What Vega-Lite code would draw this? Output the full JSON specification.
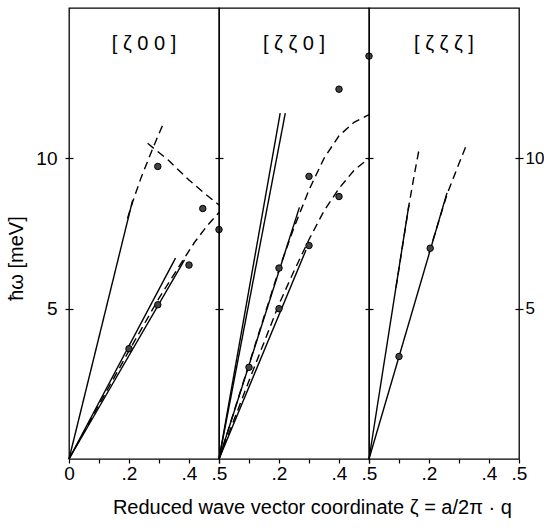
{
  "$schema": "https://vega.github.io/schema/vega-lite/v6.json",
  "padding": {"left": 6, "top": 7, "right": 0, "bottom": 4},
  "background": "white",
  "bounds": "flush",
  "spacing": 0,
  "config": {
    "view": {"stroke": "black", "strokeWidth": 1.3},
    "font": "Liberation Sans",
    "axis": {
      "grid": false, "domain": false, "tickColor": "black", "tickWidth": 1.2, "tickSize": 4,
      "labelColor": "black", "labelFont": "Liberation Sans", "labelFontSize": 19,
      "titleColor": "black", "titleFont": "Liberation Sans", "titleFontWeight": "normal"
    },
    "title": {"font": "Liberation Sans", "fontWeight": "normal", "color": "black"}
  },
  "datasets": {
    "curves": [
      {"panel": "A", "curve": "a1", "style": "solid", "zeta": 0, "E": 0},
      {"panel": "A", "curve": "a1", "style": "solid", "zeta": 0.212, "E": 8.6},
      {"panel": "A", "curve": "a2", "style": "dashed", "zeta": 0.195, "E": 8.0},
      {"panel": "A", "curve": "a2", "style": "dashed", "zeta": 0.212, "E": 8.55},
      {"panel": "A", "curve": "a2", "style": "dashed", "zeta": 0.24, "E": 9.35},
      {"panel": "A", "curve": "a2", "style": "dashed", "zeta": 0.28, "E": 10.35},
      {"panel": "A", "curve": "a2", "style": "dashed", "zeta": 0.312, "E": 11.1},
      {"panel": "A", "curve": "a3", "style": "dashed", "zeta": 0.262, "E": 10.5},
      {"panel": "A", "curve": "a3", "style": "dashed", "zeta": 0.33, "E": 9.95},
      {"panel": "A", "curve": "a3", "style": "dashed", "zeta": 0.4, "E": 9.28},
      {"panel": "A", "curve": "a3", "style": "dashed", "zeta": 0.45, "E": 8.85},
      {"panel": "A", "curve": "a3", "style": "dashed", "zeta": 0.5, "E": 8.45},
      {"panel": "A", "curve": "a4", "style": "solid", "zeta": 0, "E": 0},
      {"panel": "A", "curve": "a4", "style": "solid", "zeta": 0.355, "E": 6.68},
      {"panel": "A", "curve": "a5", "style": "solid", "zeta": 0, "E": 0},
      {"panel": "A", "curve": "a5", "style": "solid", "zeta": 0.385, "E": 6.62},
      {"panel": "A", "curve": "a6", "style": "dashed", "zeta": 0, "E": 0},
      {"panel": "A", "curve": "a6", "style": "dashed", "zeta": 0.1, "E": 1.8},
      {"panel": "A", "curve": "a6", "style": "dashed", "zeta": 0.2, "E": 3.6},
      {"panel": "A", "curve": "a6", "style": "dashed", "zeta": 0.3, "E": 5.35},
      {"panel": "A", "curve": "a6", "style": "dashed", "zeta": 0.357, "E": 6.25},
      {"panel": "A", "curve": "a6", "style": "dashed", "zeta": 0.418, "E": 7.2},
      {"panel": "A", "curve": "a6", "style": "dashed", "zeta": 0.46, "E": 7.75},
      {"panel": "A", "curve": "a6", "style": "dashed", "zeta": 0.5, "E": 8.2},

      {"panel": "B", "curve": "b1", "style": "solid", "zeta": 0, "E": 0},
      {"panel": "B", "curve": "b1", "style": "solid", "zeta": 0.204, "E": 11.5},
      {"panel": "B", "curve": "b2", "style": "solid", "zeta": 0, "E": 0},
      {"panel": "B", "curve": "b2", "style": "solid", "zeta": 0.221, "E": 11.5},
      {"panel": "B", "curve": "b3", "style": "solid", "zeta": 0, "E": 0},
      {"panel": "B", "curve": "b3", "style": "solid", "zeta": 0.268, "E": 8.37},
      {"panel": "B", "curve": "b4", "style": "dashed", "zeta": 0, "E": 0},
      {"panel": "B", "curve": "b4", "style": "dashed", "zeta": 0.1, "E": 3.15},
      {"panel": "B", "curve": "b4", "style": "dashed", "zeta": 0.2, "E": 6.3},
      {"panel": "B", "curve": "b4", "style": "dashed", "zeta": 0.25, "E": 7.7},
      {"panel": "B", "curve": "b4", "style": "dashed", "zeta": 0.3, "E": 8.95},
      {"panel": "B", "curve": "b4", "style": "dashed", "zeta": 0.35, "E": 10.0},
      {"panel": "B", "curve": "b4", "style": "dashed", "zeta": 0.4, "E": 10.75},
      {"panel": "B", "curve": "b4", "style": "dashed", "zeta": 0.45, "E": 11.2},
      {"panel": "B", "curve": "b4", "style": "dashed", "zeta": 0.5, "E": 11.45},
      {"panel": "B", "curve": "b5", "style": "solid", "zeta": 0, "E": 0},
      {"panel": "B", "curve": "b5", "style": "solid", "zeta": 0.29, "E": 6.95},
      {"panel": "B", "curve": "b6", "style": "dashed", "zeta": 0, "E": 0},
      {"panel": "B", "curve": "b6", "style": "dashed", "zeta": 0.1, "E": 2.6},
      {"panel": "B", "curve": "b6", "style": "dashed", "zeta": 0.2, "E": 5.15},
      {"panel": "B", "curve": "b6", "style": "dashed", "zeta": 0.25, "E": 6.25},
      {"panel": "B", "curve": "b6", "style": "dashed", "zeta": 0.3, "E": 7.3},
      {"panel": "B", "curve": "b6", "style": "dashed", "zeta": 0.35, "E": 8.25},
      {"panel": "B", "curve": "b6", "style": "dashed", "zeta": 0.4, "E": 9.0},
      {"panel": "B", "curve": "b6", "style": "dashed", "zeta": 0.45, "E": 9.6},
      {"panel": "B", "curve": "b6", "style": "dashed", "zeta": 0.5, "E": 10.0},

      {"panel": "C", "curve": "c1", "style": "solid", "zeta": 0, "E": 0},
      {"panel": "C", "curve": "c1", "style": "solid", "zeta": 0.133, "E": 8.45},
      {"panel": "C", "curve": "c2", "style": "dashed", "zeta": 0.09, "E": 5.7},
      {"panel": "C", "curve": "c2", "style": "dashed", "zeta": 0.133, "E": 8.43},
      {"panel": "C", "curve": "c2", "style": "dashed", "zeta": 0.15, "E": 9.4},
      {"panel": "C", "curve": "c2", "style": "dashed", "zeta": 0.168, "E": 10.36},
      {"panel": "C", "curve": "c3", "style": "solid", "zeta": 0, "E": 0},
      {"panel": "C", "curve": "c3", "style": "solid", "zeta": 0.26, "E": 8.85},
      {"panel": "C", "curve": "c4", "style": "dashed", "zeta": 0.2, "E": 6.85},
      {"panel": "C", "curve": "c4", "style": "dashed", "zeta": 0.26, "E": 8.8},
      {"panel": "C", "curve": "c4", "style": "dashed", "zeta": 0.295, "E": 9.7},
      {"panel": "C", "curve": "c4", "style": "dashed", "zeta": 0.327, "E": 10.5}
    ],
    "points": [
      {"panel": "A", "zeta": 0.2, "E": 3.67},
      {"panel": "A", "zeta": 0.296, "E": 5.13},
      {"panel": "A", "zeta": 0.4, "E": 6.45},
      {"panel": "A", "zeta": 0.296, "E": 9.73},
      {"panel": "A", "zeta": 0.446, "E": 8.33},
      {"panel": "A", "zeta": 0.5, "E": 7.63},
      {"panel": "B", "zeta": 0.1, "E": 3.05},
      {"panel": "B", "zeta": 0.2, "E": 5.0},
      {"panel": "B", "zeta": 0.2, "E": 6.35},
      {"panel": "B", "zeta": 0.3, "E": 7.1},
      {"panel": "B", "zeta": 0.3, "E": 9.4},
      {"panel": "B", "zeta": 0.4, "E": 8.73},
      {"panel": "B", "zeta": 0.4, "E": 12.3},
      {"panel": "B", "zeta": 0.5, "E": 13.4},
      {"panel": "C", "zeta": 0.1, "E": 3.41},
      {"panel": "C", "zeta": 0.204, "E": 7.01}
    ]
  },
  "title": {
    "text": "Reduced wave vector coordinate  ζ = a/2π · q",
    "orient": "bottom", "fontSize": 20, "offset": 14, "anchor": "middle", "dx": 37
  },
  "hconcat": [
    {
      "width": 150, "height": 451,
      "title": {"text": "[ ζ 0 0 ]", "fontSize": 20, "offset": -46},
      "encoding": {
        "x": {"field": "zeta", "type": "quantitative", "scale": {"domain": [0, 0.5], "nice": false, "zero": false},
          "axis": {"title": null, "values": [0, 0.1, 0.2, 0.3, 0.4, 0.5], "labelPadding": 1, "labelFlush": false, "labelOverlap": false,
            "labelExpr": "datum.value == 0 ? '0' : (datum.value == 0.1 || datum.value == 0.3) ? '' : replace(format(datum.value, '.1f'), '0.', '.')"}}
      },
      "resolve": {"axis": {"y": "independent"}},
      "layer": [
        {
          "data": {"name": "curves"},
          "transform": [{"filter": "datum.panel === 'A' && datum.style === 'solid'"}],
          "mark": {"type": "line", "color": "black", "strokeWidth": 1.4},
          "encoding": {
            "y": {"field": "E", "type": "quantitative", "scale": {"domain": [0, 15], "nice": false},
              "axis": {"orient": "left", "values": [5, 10], "title": "ħω [meV]", "titleFontSize": 20, "titlePadding": 9, "titleY": 250, "labelPadding": 8}},
            "detail": {"field": "curve"}
          }
        },
        {
          "data": {"name": "curves"},
          "transform": [{"filter": "datum.panel === 'A' && datum.style === 'dashed'"}],
          "mark": {"type": "line", "color": "black", "strokeWidth": 1.4, "strokeDash": [8, 5]},
          "encoding": {
            "y": {"field": "E", "type": "quantitative", "scale": {"domain": [0, 15], "nice": false},
              "axis": {"orient": "left", "values": [5, 10], "title": null, "labels": false, "offset": -4}},
            "detail": {"field": "curve"}
          }
        },
        {
          "data": {"name": "points"},
          "transform": [{"filter": "datum.panel === 'A'"}],
          "mark": {"type": "circle", "fill": "#444", "stroke": "black", "strokeWidth": 1, "opacity": 1, "size": 42},
          "encoding": {
            "y": {"field": "E", "type": "quantitative", "scale": {"domain": [0, 15], "nice": false},
              "axis": {"orient": "right", "values": [5, 10], "title": null, "labels": false}}
          }
        }
      ]
    },
    {
      "width": 150, "height": 451,
      "title": {"text": "[ ζ ζ 0 ]", "fontSize": 20, "offset": -46},
      "encoding": {
        "x": {"field": "zeta", "type": "quantitative", "scale": {"domain": [0, 0.5], "nice": false, "zero": false},
          "axis": {"title": null, "values": [0, 0.1, 0.2, 0.3, 0.4, 0.5], "labelPadding": 1, "labelFlush": false, "labelOverlap": false,
            "labelExpr": "(datum.value == 0 || datum.value == 0.1 || datum.value == 0.3) ? '' : replace(format(datum.value, '.1f'), '0.', '.')"}}
      },
      "resolve": {"axis": {"y": "independent"}},
      "layer": [
        {
          "data": {"name": "curves"},
          "transform": [{"filter": "datum.panel === 'B' && datum.style === 'solid'"}],
          "mark": {"type": "line", "color": "black", "strokeWidth": 1.4},
          "encoding": {
            "y": {"field": "E", "type": "quantitative", "scale": {"domain": [0, 15], "nice": false},
              "axis": {"orient": "left", "values": [5, 10], "title": null, "labels": false}},
            "detail": {"field": "curve"}
          }
        },
        {
          "data": {"name": "curves"},
          "transform": [{"filter": "datum.panel === 'B' && datum.style === 'dashed'"}],
          "mark": {"type": "line", "color": "black", "strokeWidth": 1.4, "strokeDash": [8, 5]},
          "encoding": {
            "y": {"field": "E", "type": "quantitative", "scale": {"domain": [0, 15], "nice": false},
              "axis": {"orient": "right", "values": [5, 10], "title": null, "labels": false}},
            "detail": {"field": "curve"}
          }
        },
        {
          "data": {"name": "points"},
          "transform": [{"filter": "datum.panel === 'B'"}],
          "mark": {"type": "circle", "fill": "#444", "stroke": "black", "strokeWidth": 1, "opacity": 1, "size": 42},
          "encoding": {
            "y": {"field": "E", "type": "quantitative", "scale": {"domain": [0, 15], "nice": false}, "axis": null}
          }
        }
      ]
    },
    {
      "width": 150, "height": 451,
      "title": {"text": "[ ζ ζ ζ ]", "fontSize": 20, "offset": -46},
      "encoding": {
        "x": {"field": "zeta", "type": "quantitative", "scale": {"domain": [0, 0.5], "nice": false, "zero": false},
          "axis": {"title": null, "values": [0, 0.1, 0.2, 0.3, 0.4, 0.5], "labelPadding": 1, "labelFlush": false, "labelOverlap": false,
            "labelExpr": "(datum.value == 0 || datum.value == 0.1 || datum.value == 0.3) ? '' : replace(format(datum.value, '.1f'), '0.', '.')"}}
      },
      "resolve": {"axis": {"y": "independent"}},
      "layer": [
        {
          "data": {"name": "curves"},
          "transform": [{"filter": "datum.panel === 'C' && datum.style === 'solid'"}],
          "mark": {"type": "line", "color": "black", "strokeWidth": 1.4},
          "encoding": {
            "y": {"field": "E", "type": "quantitative", "scale": {"domain": [0, 15], "nice": false},
              "axis": {"orient": "left", "values": [5, 10], "title": null, "labels": false}},
            "detail": {"field": "curve"}
          }
        },
        {
          "data": {"name": "curves"},
          "transform": [{"filter": "datum.panel === 'C' && datum.style === 'dashed'"}],
          "mark": {"type": "line", "color": "black", "strokeWidth": 1.4, "strokeDash": [8, 5]},
          "encoding": {
            "y": {"field": "E", "type": "quantitative", "scale": {"domain": [0, 15], "nice": false},
              "axis": {"orient": "right", "values": [5, 10], "title": null, "labelPadding": 2, "labelFontSize": 17}},
            "detail": {"field": "curve"}
          }
        },
        {
          "data": {"name": "points"},
          "transform": [{"filter": "datum.panel === 'C'"}],
          "mark": {"type": "circle", "fill": "#444", "stroke": "black", "strokeWidth": 1, "opacity": 1, "size": 42},
          "encoding": {
            "y": {"field": "E", "type": "quantitative", "scale": {"domain": [0, 15], "nice": false},
              "axis": {"orient": "right", "values": [5, 10], "title": null, "labels": false, "offset": -4}}
          }
        }
      ]
    }
  ]
}
